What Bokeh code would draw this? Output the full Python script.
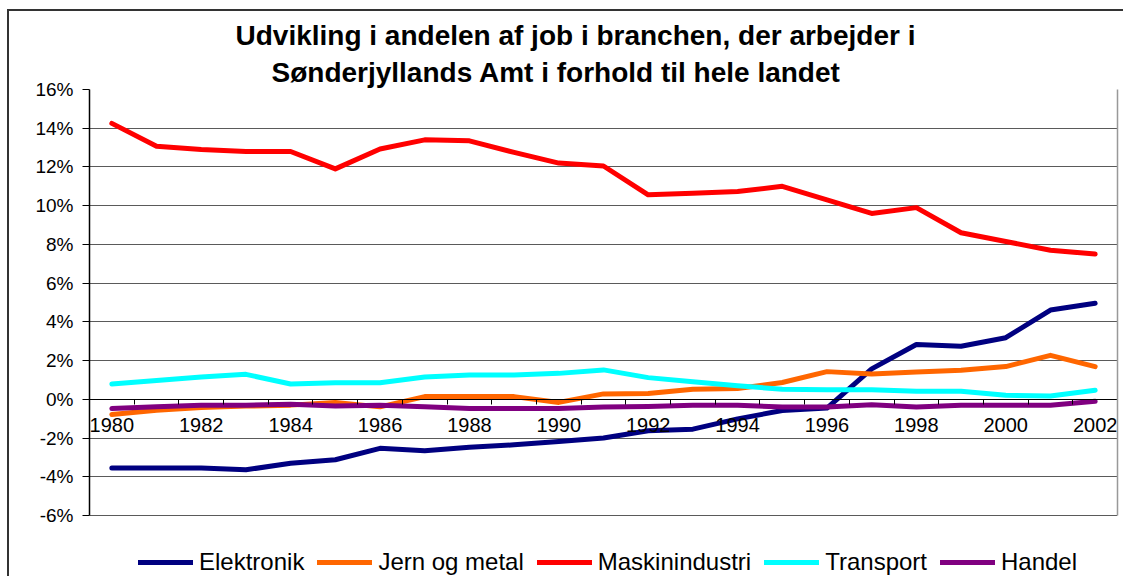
from bokeh.plotting import figure
from bokeh.models import (ColumnDataSource, FixedTicker, PrintfTickFormatter, Legend,
                          LegendItem, Title, Range1d, LinearAxis)
from bokeh.embed import file_html
from bokeh.resources import INLINE

years = list(range(1980, 2003))
elektronik = [-3.55, -3.55, -3.55, -3.64, -3.3, -3.12, -2.53, -2.66, -2.48, -2.35, -2.18, -2.0,
              -1.62, -1.54, -1.01, -0.58, -0.45, 1.57, 2.83, 2.74, 3.18, 4.61, 4.96]
jern_og_metal = [-0.78, -0.56, -0.42, -0.35, -0.3, -0.16, -0.39, 0.14, 0.14, 0.14, -0.16, 0.28,
                 0.3, 0.52, 0.56, 0.87, 1.43, 1.31, 1.41, 1.5, 1.69, 2.27, 1.69]
maskinindustri = [14.25, 13.07, 12.9, 12.8, 12.8, 11.9, 12.93, 13.4, 13.35, 12.75, 12.2, 12.05,
                  10.56, 10.64, 10.73, 11.0, 10.3, 9.6, 9.9, 8.6, 8.15, 7.7, 7.5]
transport = [0.79, 0.97, 1.15, 1.29, 0.79, 0.86, 0.86, 1.15, 1.25, 1.25, 1.34, 1.52,
             1.12, 0.91, 0.70, 0.52, 0.5, 0.5, 0.42, 0.42, 0.21, 0.17, 0.47]
handel = [-0.48, -0.39, -0.3, -0.3, -0.26, -0.35, -0.3, -0.39, -0.48, -0.48, -0.48, -0.4,
          -0.37, -0.31, -0.31, -0.4, -0.4, -0.28, -0.4, -0.31, -0.31, -0.31, -0.1]

series_names = ["Elektronik", "Jern og metal", "Maskinindustri", "Transport", "Handel"]
series_values = [elektronik, jern_og_metal, maskinindustri, transport, handel]
series_colors = ["#000080", "#FF6600", "#FF0000", "#00FFFF", "#800080"]

x_tick_years = list(range(1980, 2003, 2))
x_tick_labels = [str(y) for y in x_tick_years]
y_ticks = list(range(-6, 17, 2))

title_lines = ["Udvikling i andelen af job i branchen, der arbejder i",
               "Sønderjyllands Amt i forhold til hele landet"]

FONT = "Liberation Sans"

# layout: plot area 426 px tall for -6..16, plus 63 px legend strip below it
PLOT_H, STRIP_H = 426, 63
y_lo = y_ticks[0] - (y_ticks[-1] - y_ticks[0]) * STRIP_H / PLOT_H

p = figure(width=1116, height=567, output_backend="svg", toolbar_location=None,
           x_range=Range1d(years[0] - 0.5, years[-1] + 0.5),
           y_range=Range1d(y_lo, y_ticks[-1]),
           min_border_left=80, min_border_right=8, min_border_top=78, min_border_bottom=0,
           background_fill_color="white", border_fill_color="white")
p.styles = {"border-left": "2px solid #333333", "border-top": "2px solid #333333",
            "margin-left": "7px", "margin-top": "9px"}
p.outline_line_color = None

# x axis at y = 0
xa = p.xaxis[0]
xa.fixed_location = 0
xa.ticker = FixedTicker(ticks=x_tick_years,
                        minor_ticks=[y - 0.5 for y in years] + [years[-1] + 0.5])
xa.major_label_overrides = {y: l for y, l in zip(x_tick_years, x_tick_labels)}
xa.major_tick_out = 0
xa.major_tick_in = 0
xa.minor_tick_out = 5
xa.minor_tick_in = 0
xa.minor_tick_line_color = "black"
xa.axis_line_color = "black"
xa.axis_line_width = 1
xa.major_label_standoff = 14
xa.major_label_text_font = FONT
xa.major_label_text_font_size = "20px"
xa.major_label_text_color = "black"

ya = p.yaxis[0]
ya.ticker = FixedTicker(ticks=y_ticks)
ya.bounds = (y_ticks[0], y_ticks[-1])
ya.formatter = PrintfTickFormatter(format="%d%%")
ya.major_tick_out = 7
ya.major_tick_in = 0
ya.minor_tick_line_color = None
ya.axis_line_color = "black"
ya.axis_line_width = 1.5
ya.major_tick_line_color = "black"
ya.major_label_standoff = 9
ya.major_label_text_font = FONT
ya.major_label_text_font_size = "19px"
ya.major_label_text_color = "black"

# right frame edge of the plot area
ra = LinearAxis(bounds=(y_ticks[0], y_ticks[-1]), ticker=FixedTicker(ticks=[]),
                axis_line_color="#999999", axis_line_width=1.5,
                major_tick_line_color=None, minor_tick_line_color=None,
                major_label_text_font_size="0px")
p.add_layout(ra, "right")

p.xgrid.grid_line_color = None
p.ygrid.ticker = FixedTicker(ticks=y_ticks)
p.ygrid.grid_line_color = "#5a5a5a"
p.ygrid.grid_line_width = 1

items = []
for name, vals, col in zip(series_names, series_values, series_colors):
    src = ColumnDataSource(dict(x=years, y=vals))
    r = p.line("x", "y", source=src, line_color=col, line_width=5,
               line_cap="round", line_join="round")
    items.append(LegendItem(label=name, renderers=[r]))

legend = Legend(items=items, orientation="horizontal", location=(49, 2),
                glyph_width=55, glyph_height=28, label_height=28, label_standoff=6,
                spacing=13, padding=0, margin=0, border_line_color=None,
                background_fill_alpha=0, label_text_font=FONT,
                label_text_font_size="24px", label_text_color="black")
p.add_layout(legend, "center")

# titles: added nearest-first
for txt, off in zip(reversed(title_lines), [182, 146]):
    p.add_layout(Title(text=txt, align="left", offset=off, standoff=4,
                       text_font=FONT, text_font_style="bold", text_font_size="28px",
                       text_color="black"), "above")

open("out.html", "w").write(file_html(p, INLINE))
